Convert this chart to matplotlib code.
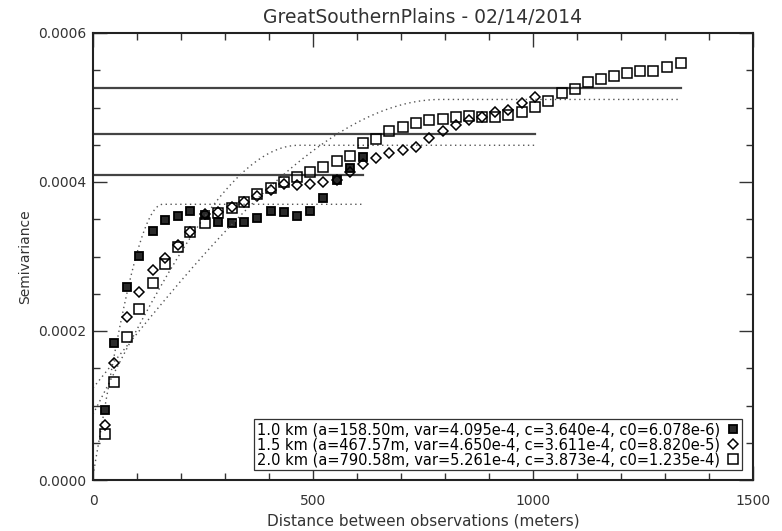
import numpy as np
import matplotlib.pyplot as plt
from matplotlib.ticker import MultipleLocator, FormatStrFormatter

# lag distances (m) shared by all three resolutions
lags = np.array([27, 48, 77, 105, 136, 164, 193, 221, 254, 284, 316, 343, 373, 404,
                 434, 464, 493, 523, 554, 584, 614, 643, 673, 704, 734, 764, 795, 825,
                 855, 884, 914, 943, 975, 1004, 1034, 1066, 1095, 1125, 1155, 1184,
                 1214, 1243, 1273, 1304, 1336])

# experimental semivariance per resolution
gamma_10 = [0.0000940, 0.0001839, 0.0002591, 0.0003007, 0.0003342, 0.0003490,
            0.0003544, 0.0003611, 0.0003557, 0.0003463, 0.0003450, 0.0003463,
            0.0003517, 0.0003611, 0.0003597, 0.0003544, 0.0003611, 0.0003785,
            0.0004027, 0.0004188, 0.0004336]
gamma_15 = [0.0000738, 0.0001570, 0.0002188, 0.0002523, 0.0002819, 0.0002980,
            0.0003154, 0.0003329, 0.0003570, 0.0003597, 0.0003664, 0.0003732,
            0.0003812, 0.0003893, 0.0003973, 0.0003960, 0.0003973, 0.0004000,
            0.0004027, 0.0004134, 0.0004242, 0.0004322, 0.0004389, 0.0004430,
            0.0004470, 0.0004591, 0.0004685, 0.0004765, 0.0004832, 0.0004872,
            0.0004940, 0.0004966, 0.0005060, 0.0005141]
gamma_20 = [0.0000617, 0.0001315, 0.0001919, 0.0002295, 0.0002644, 0.0002899,
            0.0003128, 0.0003329, 0.0003450, 0.0003584, 0.0003651, 0.0003732,
            0.0003839, 0.0003919, 0.0004000, 0.0004067, 0.0004134, 0.0004201,
            0.0004282, 0.0004349, 0.0004523, 0.0004577, 0.0004685, 0.0004738,
            0.0004792, 0.0004832, 0.0004846, 0.0004872, 0.0004886, 0.0004872,
            0.0004872, 0.0004899, 0.0004940, 0.0005007, 0.0005087, 0.0005195,
            0.0005248, 0.0005342, 0.0005383, 0.0005423, 0.0005463, 0.0005490,
            0.0005490, 0.0005544, 0.0005597]

resolutions = ["1.0", "1.5", "2.0"]
ranges = [158.50, 467.57, 790.58]
variances = [4.095e-4, 4.650e-4, 5.261e-4]
sills = [3.640e-4, 3.611e-4, 3.873e-4]
nuggets = [6.078e-6, 8.820e-5, 1.235e-4]

markers = [dict(marker="s", ms=6, mew=1.3, mfc="#2a2a2a", mec="k"),
           dict(marker="D", ms=5, mew=1.1, mfc="none", mec="k"),
           dict(marker="s", ms=7, mew=1.1, mfc="none", mec="k")]


def spherical(h, a, c, c0):
    r = np.minimum(h / a, 1.0)
    return c0 + c * (1.5 * r - 0.5 * r ** 3)


def sci(v):
    return f"{v:.3e}".replace("e-0", "e-")


fig = plt.figure(figsize=(7.82, 5.31), dpi=100)
ax = fig.add_axes([93 / 782, 1 - 480 / 531, 660 / 782, 447 / 531])

for i, gam in enumerate([gamma_10, gamma_15, gamma_20]):
    n = len(gam)
    hmax = lags[n - 1]
    h = np.linspace(0, hmax, 500)
    ax.plot(h, spherical(h, ranges[i], sills[i], nuggets[i]), color="#555555",
            lw=1.0, ls=(0, (1, 2.5)))
    ax.plot([0, hmax], [variances[i], variances[i]], color="#444444", lw=1.6)
    label = (f"{resolutions[i]} km (a={ranges[i]:.2f}m, var={sci(variances[i])}, "
             f"c={sci(sills[i])}, c0={sci(nuggets[i])})")
    ax.plot(lags[:n], gam, ls="none", label=label, **markers[i])

ax.set_xlim(0, 1500)
ax.set_ylim(0, 0.0006)
ax.xaxis.set_major_locator(MultipleLocator(500))
ax.xaxis.set_minor_locator(MultipleLocator(100))
ax.yaxis.set_major_locator(MultipleLocator(0.0002))
ax.yaxis.set_minor_locator(MultipleLocator(0.00005))
ax.yaxis.set_major_formatter(FormatStrFormatter("%.4f"))
ax.tick_params(which="both", direction="in", top=True, right=True,
               colors="#333333", labelsize=10, width=1.0)
ax.tick_params(which="major", length=10, pad=5)
ax.tick_params(axis="x", which="major", pad=10)
ax.tick_params(which="minor", length=5)
for sp in ax.spines.values():
    sp.set_linewidth(1.5)
    sp.set_color("#222222")

ax.set_title("GreatSouthernPlains - 02/14/2014", fontsize=13.5, color="#333333", pad=7)
ax.set_xlabel("Distance between observations (meters)", fontsize=11, color="#333333",
              labelpad=4)
ax.set_ylabel("Semivariance", fontsize=10, color="#333333", labelpad=4)

leg = ax.legend(loc="lower right", bbox_to_anchor=(0.983, 0.022), markerfirst=False,
                fancybox=False, edgecolor="#333333", framealpha=1, fontsize=10.5,
                handlelength=0.8, handletextpad=0.5, borderpad=0.2,
                labelspacing=0.0, borderaxespad=0)
leg.get_frame().set_linewidth(0.9)

fig.savefig("out.png", dpi=100)
